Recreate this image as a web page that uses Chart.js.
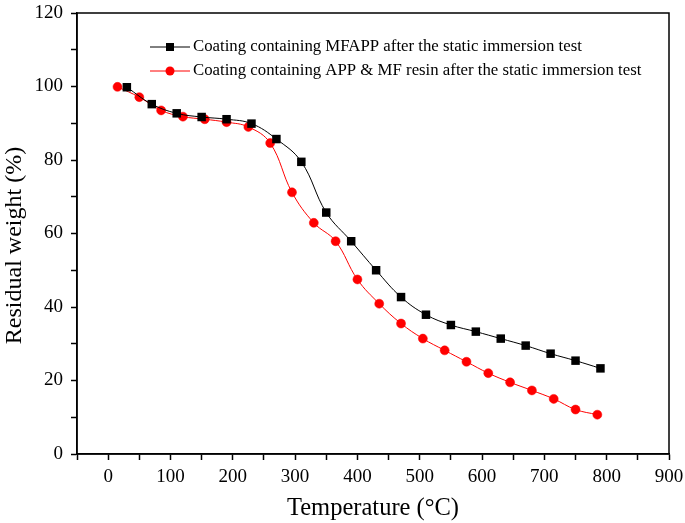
<!doctype html>
<html>
<head>
  <meta charset="utf-8" />
  <title>Residual weight</title>
  <script src="https://cdn.jsdelivr.net/npm/chart.js"></script>
  <style>
    html, body { margin: 0; padding: 0; background: #fff; }
    #wrap { width: 685px; height: 523px; }
  </style>
</head>
<body>
  <div id="wrap"><canvas id="tgChart" width="685" height="523"></canvas></div>

<script>
  // MFAPP coating
  var mfappTemp = [30, 70, 110, 150, 190, 230, 270, 310, 350, 390, 430, 470, 510, 550, 590, 630, 670, 710, 750, 790];
  var mfappWeight = [99.8, 95.2, 92.7, 91.7, 91.1, 89.9, 85.7, 79.5, 65.7, 57.9, 50.0, 42.7, 37.9, 35.1, 33.3, 31.4, 29.5, 27.3, 25.4, 23.3];
  // APP & MF resin coating
  var appTemp = [15, 50, 85, 120, 155, 190, 225, 260, 295, 330, 365, 400, 435, 470, 505, 540, 575, 610, 645, 680, 715, 750, 785];
  var appWeight = [99.9, 97.1, 93.5, 91.8, 91.1, 90.3, 89.0, 84.6, 71.2, 62.9, 57.9, 47.5, 40.9, 35.5, 31.4, 28.2, 25.1, 22.0, 19.5, 17.3, 15.0, 12.1, 10.7];

  var seriesLabels = [
    'Coating containing MFAPP after the static immersion test',
    'Coating containing APP & MF resin after the static immersion test'
  ];

  var serif = "'Liberation Serif', 'DejaVu Serif', serif";

  function toPoints(xs, ys) {
    return xs.map((x, i) => ({ x: x, y: ys[i] }));
  }

  // frame round the plot area
  const framePlugin = {
    id: 'frame',
    afterDraw(chart) {
      const a = chart.chartArea, ctx = chart.ctx;
      ctx.save();
      ctx.strokeStyle = '#000';
      ctx.lineWidth = 1.5;
      ctx.strokeRect(a.left, a.top, a.right - a.left, a.bottom - a.top);
      ctx.restore();
    }
  };

  // legend inside the plot: line + marker + text
  const innerLegend = {
    id: 'innerLegend',
    afterDraw(chart) {
      const ctx = chart.ctx, a = chart.chartArea;
      const x0 = a.left + 73, lineLen = 40, rowH = 24;
      let y = a.top + 34;
      ctx.save();
      ctx.font = '16.8px ' + serif;
      ctx.textBaseline = 'middle';
      chart.data.datasets.forEach((ds) => {
        ctx.strokeStyle = ds.borderColor;
        ctx.lineWidth = 1;
        ctx.beginPath();
        ctx.moveTo(x0, y);
        ctx.lineTo(x0 + lineLen, y);
        ctx.stroke();
        ctx.fillStyle = ds.pointBackgroundColor;
        if (ds.pointStyle === 'rect') {
          ctx.fillRect(x0 + lineLen / 2 - 4, y - 4, 8, 8);
        } else {
          ctx.beginPath();
          ctx.arc(x0 + lineLen / 2, y, 4.5, 0, Math.PI * 2);
          ctx.fill();
        }
        ctx.fillStyle = '#000';
        ctx.fillText(ds.label, x0 + lineLen + 3, y);
        y += rowH;
      });
      ctx.restore();
    }
  };

  const ctx = document.getElementById('tgChart').getContext('2d');
  new Chart(ctx, {
    type: 'line',
    data: {
      datasets: [
        {
          label: seriesLabels[0],
          data: toPoints(mfappTemp, mfappWeight),
          borderColor: '#000',
          borderWidth: 1,
          pointStyle: 'rect',
          pointRadius: 6,
          pointBackgroundColor: '#000',
          pointBorderColor: '#000',
          pointBorderWidth: 0,
          tension: 0.4
        },
        {
          label: seriesLabels[1],
          data: toPoints(appTemp, appWeight),
          borderColor: '#ff0000',
          borderWidth: 1,
          pointStyle: 'circle',
          pointRadius: 4.5,
          pointBackgroundColor: '#ff0000',
          pointBorderColor: '#ff0000',
          pointBorderWidth: 0.5,
          tension: 0.4
        }
      ]
    },
    options: {
      responsive: false,
      animation: false,
      layout: { padding: 0 },
      plugins: {
        legend: { display: false },
        tooltip: { enabled: false }
      },
      scales: {
        x: {
          type: 'linear',
          min: -50, max: 900,
          border: { color: '#000', width: 1.5 },
          grid: { drawOnChartArea: false, tickLength: 6, tickColor: '#000', tickWidth: 1.5 },
          ticks: {
            stepSize: 50,
            color: '#000',
            padding: 6,
            maxRotation: 0,
            autoSkip: false,
            font: { family: serif, size: 19 },
            callback: (v) => (v >= 0 && v % 100 === 0 ? v : '')
          },
          title: { display: true, text: 'Temperature (°C)', color: '#000', font: { family: serif, size: 24.5 }, padding: { top: 4, bottom: 0 } },
          afterFit: (s) => { s.height = 69; s.paddingRight = 16; s.paddingLeft = 0; }
        },
        y: {
          min: 0, max: 120,
          border: { color: '#000', width: 1.5 },
          grid: { drawOnChartArea: false, tickLength: 6, tickColor: '#000', tickWidth: 1.5 },
          ticks: {
            stepSize: 10,
            color: '#000',
            padding: 8,
            autoSkip: false,
            font: { family: serif, size: 19 },
            callback: (v) => (v % 20 === 0 ? v : '')
          },
          title: { display: true, text: 'Residual weight (%)\u00a0\u00a0\u00a0\u00a0', color: '#000', font: { family: serif, size: 24 }, padding: { top: 0, bottom: 4 } },
          afterFit: (s) => { s.width = 77; s.paddingTop = 13; s.paddingBottom = 0; }
        }
      }
    },
    plugins: [framePlugin, innerLegend]
  });
</script>
</body>
</html>
